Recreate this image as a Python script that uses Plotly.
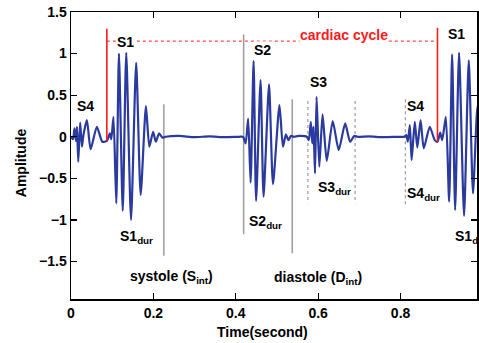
import plotly.graph_objects as go

# ---- waveform (time in seconds, amplitude) ----
time_s = [
    0.0000, 0.0048, 0.0085, 0.0121, 0.0145, 0.0176, 0.0222, 0.0266, 0.0302, 0.0386,
    0.0476, 0.0628, 0.0761, 0.0870,
    0.0942, 0.0978, 0.1031, 0.1099, 0.1164, 0.1256, 0.1341, 0.1457, 0.1582, 0.1691,
    0.1819, 0.1901, 0.1993, 0.2060, 0.2138, 0.2222, 0.2295,
    0.2633, 0.2995, 0.3357, 0.3720, 0.4082,
    0.4179, 0.4239, 0.4300, 0.4360, 0.4432, 0.4493, 0.4601, 0.4674, 0.4807, 0.4903,
    0.5060, 0.5145, 0.5217, 0.5278, 0.5338, 0.5411, 0.5531,
    0.5725, 0.5773, 0.5821, 0.5857, 0.5886, 0.5923, 0.5961, 0.6027, 0.6106, 0.6208,
    0.6353, 0.6498, 0.6655, 0.6775, 0.6872, 0.6957,
    0.7222, 0.7585, 0.7947, 0.8092,
    0.8140, 0.8176, 0.8225, 0.8268, 0.8345, 0.8406, 0.8486, 0.8563, 0.8708, 0.8829,
    0.8896,
    0.8961, 0.9010, 0.9099, 0.9179, 0.9251, 0.9324, 0.9420, 0.9541, 0.9655, 0.9758,
    0.9867, 0.9952,
]
amplitude = [
    0.00, -0.03, 0.10, -0.05, 0.12, -0.30, 0.17, -0.12, 0.02, 0.20,
    -0.15, 0.12, -0.06, -0.05,
    0.04, -0.03, 0.24, -0.80, 1.00, -0.89, 1.01, -1.00, 0.89, -0.70,
    0.37, -0.12, 0.06, -0.06, 0.04, -0.01, 0.00,
    0.01, -0.005, 0.005, -0.005, 0.00,
    0.00, -0.08, 0.22, -0.55, 0.91, -0.77, 0.68, -0.72, 0.63, -0.57,
    0.38, -0.12, 0.03, -0.04, 0.01, 0.00, 0.01,
    0.00, -0.04, 0.18, -0.08, 0.12, -0.44, 0.48, -0.36, 0.27, -0.29,
    0.19, -0.16, 0.16, -0.06, 0.01, 0.00,
    0.005, -0.005, 0.00, 0.00,
    0.02, -0.06, 0.14, -0.28, 0.18, -0.13, 0.20, -0.14, 0.12, -0.04,
    -0.06,
    0.05, -0.04, 0.24, -0.78, 0.99, -0.88, 1.01, -0.95, 0.92, -0.68,
    0.37, -0.12,
]

# ---- cardiac cycle markers (red) ----
cycle_t = [0.0870, 0.8896]
cycle_y0 = [-0.05, -0.06]
cycle_y1 = [1.30, 1.31]
cycle_dotted_y = 1.15

# ---- segment boundaries (grey) ----
solid_t = [0.2254, 0.4190, 0.5370]
solid_y0 = [0.39, 1.23, 0.45]
solid_y1 = [-1.43, -1.17, -1.40]
dotted_t = [0.5750, 0.6896, 0.8116]
dotted_y0 = [0.43, 0.43, 0.45]
dotted_y1 = [-0.80, -0.80, -0.83]

# ---- labels ----
peak_labels = ["S4", "S1", "S2", "S3", "S4", "S1"]
peak_t = [0.036, 0.133, 0.466, 0.601, 0.836, 0.935]
peak_y = [0.37, 1.14, 1.04, 0.66, 0.37, 1.24]

dur_labels = ["S1<sub>dur</sub>", "S2<sub>dur</sub>", "S3<sub>dur</sub>",
              "S4<sub>dur</sub>", "S1<sub>dur</sub>",
              "systole (S<sub>int</sub>)", "diastole (D<sub>int</sub>)"]
dur_t = [0.1135, 0.4275, 0.594, 0.8116, 0.9275, 0.1377, 0.488]
dur_y = [-1.20, -1.02, -0.61, -0.69, -1.20, -1.69, -1.70]

x_ticks = [0, 0.2, 0.4, 0.6, 0.8]
x_ticktext = ["0", "0.2", "0.4", "0.6", "0.8"]
y_ticks = [-1.5, -1, -0.5, 0, 0.5, 1, 1.5]
y_ticktext = ["\u22121.5", "\u22121", "\u22120.5", "0", "0.5", "1", "1.5"]

FONT = "Liberation Sans, Arial, Helvetica, sans-serif"
BLUE = "#2b3a9e"
RED = "#ff1a1a"
GREY = "#9c9c9c"

fig = go.Figure()

shapes = []
for t, a, b in zip(solid_t, solid_y0, solid_y1):
    shapes.append(dict(type="line", xref="x", yref="y", x0=t, x1=t, y0=a, y1=b,
                       line=dict(color=GREY, width=1.5), layer="below"))
for t, a, b in zip(dotted_t, dotted_y0, dotted_y1):
    shapes.append(dict(type="line", xref="x", yref="y", x0=t, x1=t, y0=a, y1=b,
                       line=dict(color=GREY, width=1.2, dash="dot"), layer="below"))
shapes.append(dict(type="line", xref="x", yref="y", x0=cycle_t[0], x1=cycle_t[1],
                   y0=cycle_dotted_y, y1=cycle_dotted_y,
                   line=dict(color=RED, width=1, dash="dot"), layer="below"))

fig.add_trace(go.Scatter(x=time_s, y=amplitude, mode="lines",
                         line=dict(color=BLUE, width=2.2, shape="spline", smoothing=0.6),
                         hoverinfo="skip", showlegend=False))

for t, a, b in zip(cycle_t, cycle_y0, cycle_y1):
    fig.add_trace(go.Scatter(x=[t, t], y=[a, b], mode="lines",
                             line=dict(color=RED, width=1.6),
                             hoverinfo="skip", showlegend=False))

def bold(s):
    return "<b>" + s + "</b>"

annotations = []
for txt, t, y in zip(peak_labels, peak_t, peak_y):
    annotations.append(dict(x=t, y=y, xref="x", yref="y", text=bold(txt), showarrow=False,
                            font=dict(family=FONT, size=14, color="black"),
                            bgcolor="white", borderpad=0))
for txt, t, y in zip(dur_labels, dur_t, dur_y):
    annotations.append(dict(x=t, y=y, xref="x", yref="y", text=bold(txt), showarrow=False,
                            xanchor="left", yanchor="middle",
                            font=dict(family=FONT, size=14, color="black")))
annotations.append(dict(x=0.662, y=1.22, xref="x", yref="y", text=bold("cardiac cycle"),
                        showarrow=False, font=dict(family=FONT, size=14, color=RED),
                        bgcolor="white", borderpad=0))
annotations.append(dict(x=-0.1225, y=0.474, xref="paper", yref="paper", text=bold("Amplitude"),
                        textangle=-90, showarrow=False, xanchor="center", yanchor="middle",
                        font=dict(family=FONT, size=14, color="black")))
annotations.append(dict(x=0.4706, y=-0.115, xref="paper", yref="paper", text=bold("Time(second)"),
                        showarrow=False, xanchor="center", yanchor="middle",
                        font=dict(family=FONT, size=14, color="black")))

fig.update_layout(
    width=479, height=343,
    margin=dict(l=71, r=0, t=12, b=44),
    paper_bgcolor="white", plot_bgcolor="white",
    shapes=shapes, annotations=annotations,
    font=dict(family=FONT, size=14, color="black"),
    xaxis=dict(range=[0, 0.9855], tickvals=x_ticks, ticktext=[bold(s) for s in x_ticktext],
               ticks="inside", ticklen=6, tickwidth=1.3, tickcolor="black",
               showline=True, linecolor="black", linewidth=1.5, mirror="allticks",
               showgrid=False, zeroline=False, ticklabelstandoff=1,
               tickfont=dict(family=FONT, size=14, color="black")),
    yaxis=dict(range=[-1.95, 1.5], tickvals=y_ticks, ticktext=[bold(s) for s in y_ticktext],
               ticks="inside", ticklen=6, tickwidth=1.3, tickcolor="black",
               showline=True, linecolor="black", linewidth=1.5, mirror="allticks",
               showgrid=False, zeroline=False,
               tickfont=dict(family=FONT, size=14, color="black")),
)

fig.write_html(
    "out.html",
    config={"displayModeBar": False, "staticPlot": True},
    post_script="document.body.style.margin='0';document.body.style.padding='0';"
                "document.body.style.overflow='hidden';"
                "document.documentElement.style.overflow='hidden';",
)
